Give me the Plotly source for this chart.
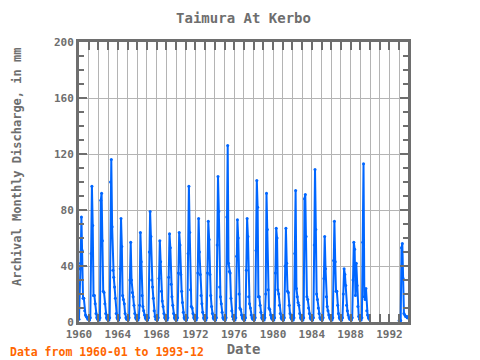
import pandas as pd
import plotly.graph_objects as go

# Monthly discharge (mm), one list per year (Jan..Dec)
y1960 = [2, 38, 42, 75, 51, 17, 17, 8, 5, 4, 3, 2]
y1961 = [2, 1.5, 3, 49, 97, 69, 19, 19, 13, 6, 3, 2]
y1962 = [2, 1.5, 3, 87, 92, 58, 22, 21, 13, 6, 3, 2]
y1963 = [2, 1.5, 3, 100, 116, 68, 37, 32, 25, 17, 6, 3]
y1964 = [2, 1.5, 3, 38, 74, 54, 19, 16, 13, 6, 3, 2]
y1965 = [2, 1.5, 3, 30, 57, 30, 21, 18, 12, 6, 3, 2]
y1966 = [2, 1.5, 3, 12, 64, 43, 19, 11, 8, 5, 3, 2]
y1967 = [2, 1.5, 3, 50, 79, 61, 30, 25, 17, 8, 4, 2]
y1968 = [2, 1.5, 3, 31, 58, 43, 22, 15, 11, 6, 3, 2]
y1969 = [2, 1.5, 3, 32, 63, 53, 27, 18, 12, 6, 3, 2]
y1970 = [2, 1.5, 3, 35, 64, 55, 34, 22, 14, 7, 3, 2]
y1971 = [2, 1.5, 3, 49, 97, 64, 23, 11, 10, 6, 3, 2]
y1972 = [2, 1.5, 3, 35, 74, 50, 34, 19, 13, 7, 3, 2]
y1973 = [2, 1.5, 3, 35, 72, 59, 34, 19, 11, 6, 3, 2]
y1974 = [2, 1.5, 3, 55, 104, 79, 25, 18, 13, 7, 3, 2]
y1975 = [2, 1.5, 3, 75, 126, 42, 36, 35, 17, 8, 4, 2]
y1976 = [2, 1.5, 3, 47, 73, 60, 20, 10, 9, 5, 3, 2]
y1977 = [2, 1.5, 3, 37, 74, 61, 18, 13, 10, 5, 3, 2]
y1978 = [2, 1.5, 3, 51, 101, 82, 18, 18, 12, 7, 3, 2]
y1979 = [2, 1.5, 3, 20, 92, 66, 23, 10, 9, 5, 3, 2]
y1980 = [2, 1.5, 3, 35, 67, 60, 23, 20, 12, 6, 3, 2]
y1981 = [2, 1.5, 3, 40, 67, 42, 22, 21, 12, 6, 3, 2]
y1982 = [2, 1.5, 3, 49, 94, 24, 18, 14, 12, 6, 3, 2]
y1983 = [2, 1.5, 3, 88, 91, 61, 18, 16, 10, 6, 3, 2]
y1984 = [2, 1.5, 3, 55, 109, 66, 20, 16, 10, 6, 3, 2]
y1985 = [2, 1.5, 3, 31, 61, 38, 18, 11, 8, 5, 3, 2]
y1986 = [2, 1.5, 3, 44, 72, 43, 22, 22, 12, 6, 3, 2]
y1987 = [2, 1.5, 3, 20, 38, 34, 26, 12, 8, 5, 3, 2]
y1988 = [2, 1.5, 3, 30, 57, 52, 19, 42, 26, 11, 4, 2]
y1989 = [2, 1.5, 3, 57, 113, 18, 16, 24, 8, 5, 3, 2]
y1990 = [None] * 12
y1991 = [None] * 12
y1992 = [None] * 12
y1993 = [1, 1, 1, 53, 56, 31, 6, 5, 4, 4, 3, 4]

years = [y1960, y1961, y1962, y1963, y1964, y1965, y1966, y1967, y1968, y1969,
         y1970, y1971, y1972, y1973, y1974, y1975, y1976, y1977, y1978, y1979,
         y1980, y1981, y1982, y1983, y1984, y1985, y1986, y1987, y1988, y1989,
         y1990, y1991, y1992, y1993]
values = [v for yr in years for v in yr]
dates = pd.date_range("1960-01-01", periods=len(values), freq="MS")

title_text = "Taimura At Kerbo"
y_title = "Archival Monthly Discharge, in mm"
x_title = "Date"
footnote = "Data from 1960-01 to 1993-12"

FONT = "DejaVu Sans Mono"
GRAY = "#6e6e6e"
BLUE = "#0066ff"

# page is offset by 8px body margin; figure sized to fit the 480x360 window
W, H = 472, 352
L, T, PW, PH = 71, 34, 329, 280

fig = go.Figure()
fig.add_trace(go.Scatter(
    x=dates, y=values, mode="lines+markers",
    line=dict(color=BLUE, width=2),
    marker=dict(color=BLUE, size=3),
    connectgaps=False, showlegend=False,
))

fig.update_layout(
    width=W, height=H,
    margin=dict(l=L, r=W - L - PW, t=T, b=H - T - PH, autoexpand=False),
    paper_bgcolor="white", plot_bgcolor="white",
    title=dict(text=title_text, x=(L + PW / 2) / W, xanchor="center",
               y=1 - 10 / H, yanchor="middle",
               font=dict(family=FONT, size=14, color=GRAY, weight="bold")),
    font=dict(family=FONT, color=GRAY),
)

fig.update_xaxes(
    type="date", automargin=False,
    range=["1960-01-01", "1993-12-01"],
    tick0="1960-01-01", dtick="M48", tickformat="%Y",
    ticks="inside", ticklen=8, tickcolor=GRAY, tickwidth=2,
    showgrid=True, gridcolor="#b4b4b4", gridwidth=1,
    minor=dict(dtick="M12", tick0="1960-01-01", ticks="inside", ticklen=8,
               tickcolor=GRAY, tickwidth=2, showgrid=True,
               gridcolor="#b4b4b4", gridwidth=1),
    showline=True, linecolor=GRAY, linewidth=3, mirror="allticks",
    zeroline=False,
    tickfont=dict(family=FONT, size=11, color=GRAY, weight="bold"),
    title=dict(text=x_title, standoff=1,
               font=dict(family=FONT, size=14, color=GRAY, weight="bold")),
)

fig.update_yaxes(
    automargin=False,
    range=[0, 200], dtick=40, tick0=0,
    ticks="inside", ticklen=8, tickcolor=GRAY, tickwidth=2,
    showgrid=True, gridcolor="#b4b4b4", gridwidth=1,
    minor=dict(dtick=10, ticks="inside", ticklen=5, tickcolor=GRAY,
               tickwidth=2, showgrid=False),
    showline=True, linecolor=GRAY, linewidth=3, mirror="allticks",
    zeroline=False,
    tickfont=dict(family=FONT, size=11, color=GRAY, weight="bold"),
)

# y-axis title (placed as rotated text, centred a bit above the plot middle)
fig.add_annotation(
    text=y_title, xref="paper", yref="paper", textangle=-90,
    x=(9 - L) / PW, y=1 - (159 - T) / PH, xanchor="center", yanchor="middle",
    showarrow=False,
    font=dict(family=FONT, size=12, color=GRAY, weight="bold"),
)

fig.add_annotation(
    text=footnote, xref="paper", yref="paper",
    x=-L / PW, y=-30 / PH, xanchor="left", yanchor="middle",
    showarrow=False,
    font=dict(family=FONT, size=11.5, color="#ff6600", weight="bold"),
)

fig.write_html("out.html")
